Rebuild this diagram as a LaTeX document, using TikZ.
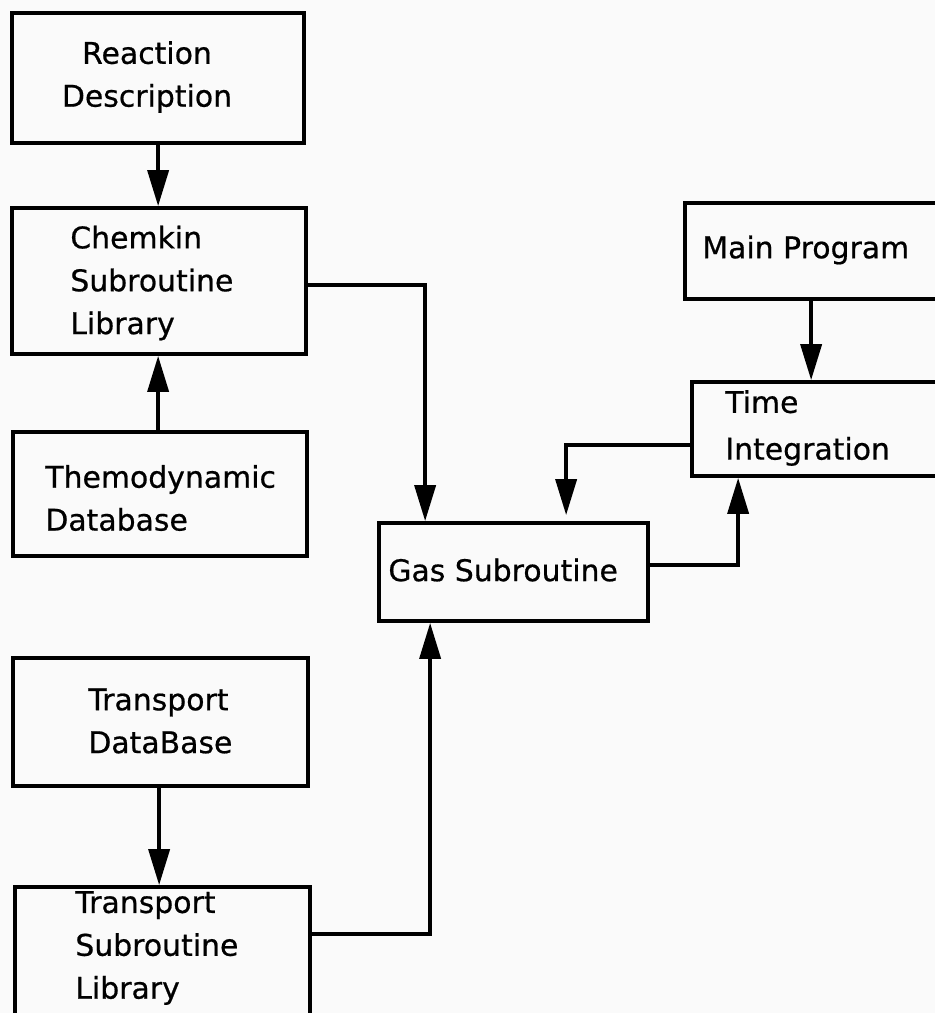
\documentclass[tikz,border=0pt]{standalone}
\usepackage{fontspec}
\setmainfont{DejaVu Sans}
\newfontfamily\diagfont[FakeBold=0.6]{DejaVu Sans}
\usetikzlibrary{arrows.meta,fit,calc}
\begin{document}
\begin{tikzpicture}[x=0.02cm,y=-0.02cm,
  box/.style={draw=black, line width=0.075cm, inner sep=0pt},
  txt/.style={inner sep=0pt, font=\diagfont\fontsize{17}{24.4}\selectfont},
  arr/.style={draw=black, line width=0.075cm, -{Triangle[length=0.72cm,width=0.42cm]}}]
\fill[gray!4] (0,0) rectangle (935,1013);
\useasboundingbox (0,0) rectangle (935,1013);
% boxes
\node[box, fit={(12,13) (304,143)}] (react) {};
\node[box, fit={(12,208) (306,354)}] (chem) {};
\node[box, fit={(13,432) (307,556)}] (thermo) {};
\node[box, fit={(13,658) (308,786)}] (tdb) {};
\node[box, fit={(15,887) (310,1040)}] (tsub) {};
\node[box, fit={(379,523) (648,621)}] (gas) {};
\node[box, fit={(685,203) (950,299)}] (main) {};
\node[box, fit={(692,382) (950,476)}] (time) {};
% texts
\node[txt, align=center] (reactT) at (147,77) {Reaction\\Description};
\node[txt, align=left, anchor=west] (chemT) at (70,283) {Chemkin\\Subroutine\\Library};
\node[txt, align=left, anchor=west] (thermoT) at (45,498) {Themodynamic\\Database};
\node[txt, align=left, anchor=west] (tdbT) at (88,721) {Transport\\DataBase};
\node[txt, align=left, anchor=west] (tsubT) at (75,948) {Transport\\Subroutine\\Library};
\node[txt, anchor=west] (gasT) at (388,570) {Gas Subroutine};
\node[txt, anchor=west] (mainT) at (702,250) {Main Program};
\node[txt, align=left, anchor=west, font=\diagfont\fontsize{17}{26.6}\selectfont] (timeT) at (725,428) {Time\\Integration};
% connector points
\coordinate (c1) at ($(react.south west)+(148,0)$);
\coordinate (c2) at ($(thermo.north west)+(147,0)$);
\coordinate (c3) at ($(tdb.south west)+(148,0)$);
\coordinate (m1) at ($(main.south west)+(128,0)$);
% connectors
\draw[arr] (c1) -- (c1 |- chem.north);
\draw[arr] (c2) -- (c2 |- chem.south);
\draw[arr] (c3) -- (c3 |- tsub.north);
\draw[arr] ($(chem.north east)+(0,79)$) -| ($(gas.north west)+(48,0)$);
\draw[arr] ($(time.north west)+(0,65)$) -| ($(gas.north west)+(189,-6)$);
\draw[arr] ($(gas.north east)+(0,44)$) -| ($(time.south west)+(48,0)$);
\draw[arr] (m1) -- (m1 |- time.north);
\draw[arr] ($(tsub.north east)+(0,49)$) -| ($(gas.south west)+(53,0)$);
\end{tikzpicture}
\end{document}
